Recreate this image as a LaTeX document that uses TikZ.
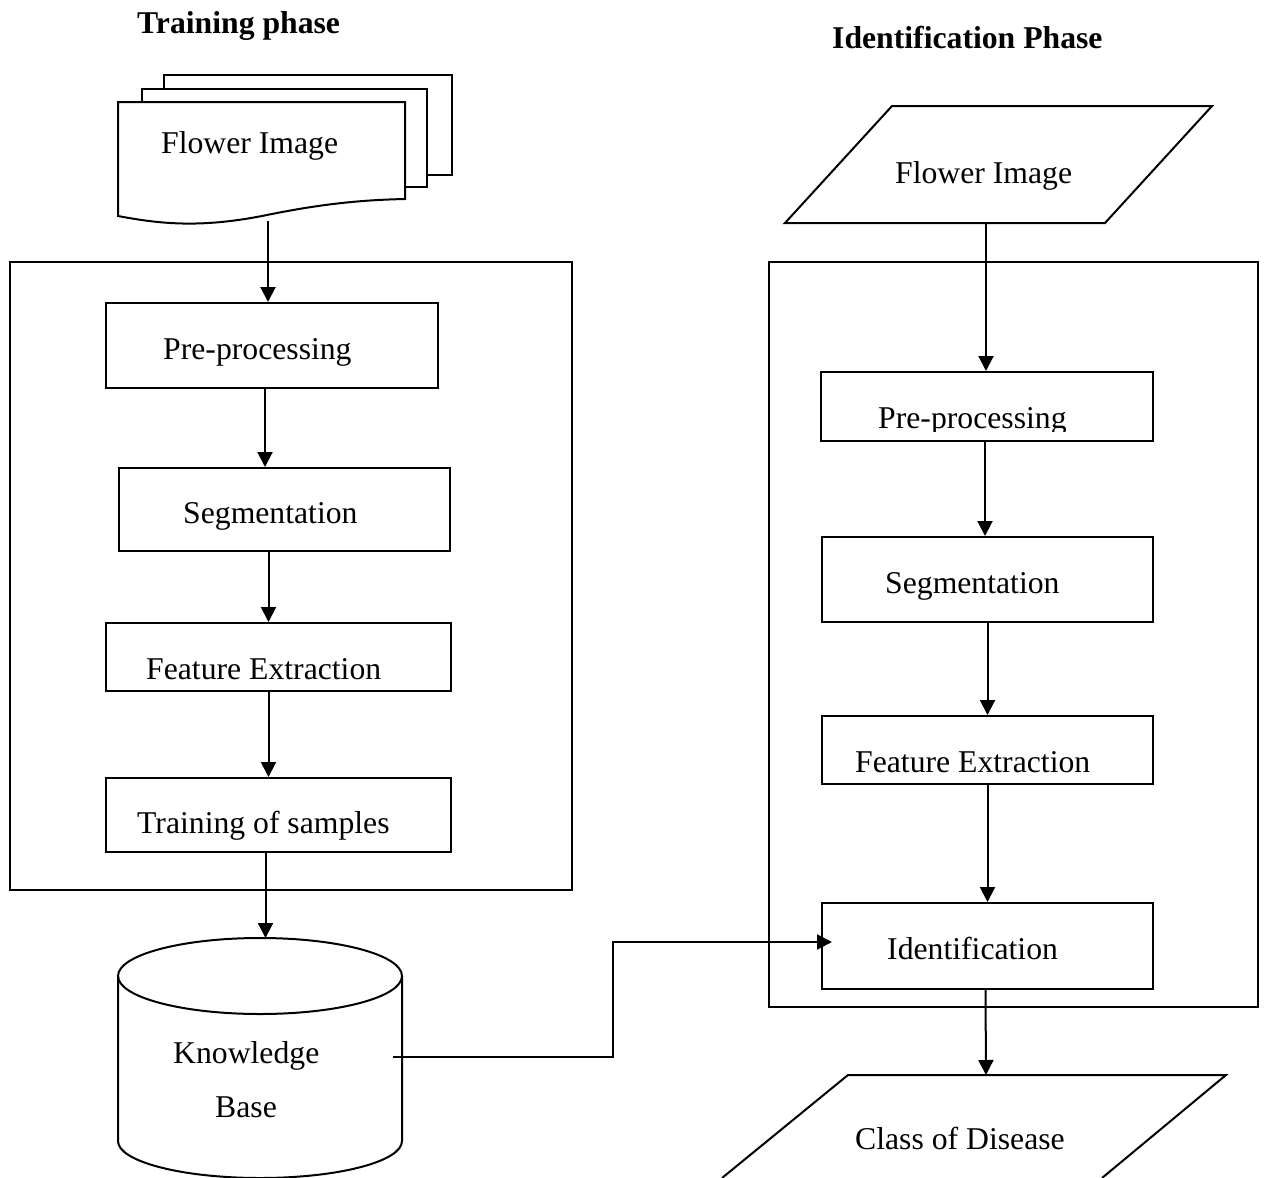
\documentclass[tikz,border=0pt]{standalone}
\usepackage{fontspec}
\setmainfont{Liberation Serif}
\usetikzlibrary{arrows.meta}

\tikzset{
  line/.style={line width=2pt, line join=miter},
  box/.style={line, draw, rectangle, inner sep=0pt},
  frame/.style={line, draw, rectangle, inner sep=0pt},
  arr/.style={line, -{Triangle[length=15pt,width=15pt]}},
  lbl/.style={anchor=base west, inner sep=0pt, font=\fontsize{31.7}{38}\selectfont},
  ttl/.style={anchor=base west, inner sep=0pt, font=\fontsize{31.7}{38}\selectfont\bfseries},
}

\begin{document}
\begin{tikzpicture}[x=1pt, y=-1pt]
\useasboundingbox (0,0) rectangle (1267,1178);

% ---------------- titles ----------------
\node[ttl] (ttrain) at (137,33) {Training phase};
\node[ttl] (tident) at (832,48) {Identification Phase};

% ---------------- training phase ----------------
% stacked documents
\draw[line] (164,89) -- (164,75) -- (452,75) -- (452,175) -- (427,175);
\draw[line] (142,102) -- (142,89) -- (427,89) -- (427,187) -- (405,187);
\draw[line, fill=white] (118,216) -- (118,102) -- (405,102) -- (405,199)
  .. controls (360,200) and (320,204) .. (262,216)
  .. controls (200,228) and (160,224) .. (118,216) -- cycle;
\node[lbl] (fimg1) at (161,153) {Flower Image};
\coordinate (docbot) at (268,221);

% frame around the training steps
\node[frame, minimum width=562pt, minimum height=628pt] (trainframe) at (291,576) {};

\node[box, minimum width=332pt, minimum height=85pt] (lpre) at (272,345.5) {};
\node[box, minimum width=331pt, minimum height=83pt] (lseg) at (284.5,509.5) {};
\node[box, minimum width=345pt, minimum height=68pt] (lfe)  at (278.5,657) {};
\node[box, minimum width=345pt, minimum height=74pt] (lts)  at (278.5,815) {};

\node[lbl] (lpret) at (163,359) {Pre-processing};
\node[lbl] (lsegt) at (183,523) {Segmentation};
\node[lbl] (lfet)  at (146,679) {Feature Extraction};
\node[lbl] (ltst)  at (137,833) {Training of samples};

% knowledge base cylinder
\draw[line] (260,976) ellipse [x radius=142, y radius=38];
\draw[line] (118,976) -- (118,1141) arc[start angle=180, end angle=0, x radius=142, y radius=37] -- (402,976);
\coordinate (kbtop) at (265,938);
\node[lbl] (kb1) at (173,1063) {Knowledge};
\node[lbl] (kb2) at (215,1117) {Base};
\coordinate (kbout) at (393,1057);

% training connectors
\draw[arr] (docbot) -- (docbot |- lpre.north);
\draw[arr] ([xshift=-7pt]lpre.south) -- ([xshift=-7pt]lpre.south |- lseg.north);
\draw[arr] ([xshift=-16pt]lseg.south) -- ([xshift=-16pt]lseg.south |- lfe.north);
\draw[arr] ([xshift=-10pt]lfe.south) -- ([xshift=-10pt]lfe.south |- lts.north);
\draw[arr] ([xshift=-13pt]lts.south) -- ([xshift=-13pt]lts.south |- kbtop);

% ---------------- identification phase ----------------
\draw[line] (892,106) -- (1212,106) -- (1105,223) -- (785,223) -- cycle;
\node[lbl] (fimg2) at (895,183) {Flower Image};
\coordinate (fi2bot) at (986,223);

\node[frame, minimum width=489pt, minimum height=745pt] (identframe) at (1013.5,634.5) {};

\node[box, minimum width=332pt, minimum height=69pt] (rpre) at (987,406.5) {};
\node[box, minimum width=331pt, minimum height=85pt] (rseg) at (987.5,579.5) {};
\node[box, minimum width=331pt, minimum height=68pt] (rfe)  at (987.5,750) {};
\node[box, minimum width=331pt, minimum height=86pt] (rid)  at (987.5,946) {};

\begin{scope}
  \clip (823,374) rectangle (1151,431);
  \node[lbl] (rpret) at (878,428) {Pre-processing};
\end{scope}
\node[lbl] (rsegt) at (885,593) {Segmentation};
\node[lbl] (rfet)  at (855,772) {Feature Extraction};
\node[lbl] (ridt)  at (887,959) {Identification};

% output parallelogram, running off the lower edge
\draw[line] (722,1178) -- (848,1075) -- (1226,1075) -- (1102,1178);
\node[lbl] (cdis) at (855,1149) {Class of Disease};
\coordinate (cdtop) at (986,1075);

% identification connectors
\draw[arr] (fi2bot) -- (fi2bot |- rpre.north);
\draw[arr] ([xshift=-2pt]rpre.south) -- ([xshift=-2pt]rpre.south |- rseg.north);
\draw[arr] (rseg.south) -- (rfe.north);
\draw[arr] (rfe.south) -- (rid.north);
\draw[arr] ([xshift=-2pt]rid.south) -- (cdtop);

% knowledge base feeds the identification step
\coordinate (kink) at (613,942);
\coordinate (idin) at (832,942);
\draw[arr] (kbout) -| (kink) -- (idin);

\end{tikzpicture}
\end{document}
